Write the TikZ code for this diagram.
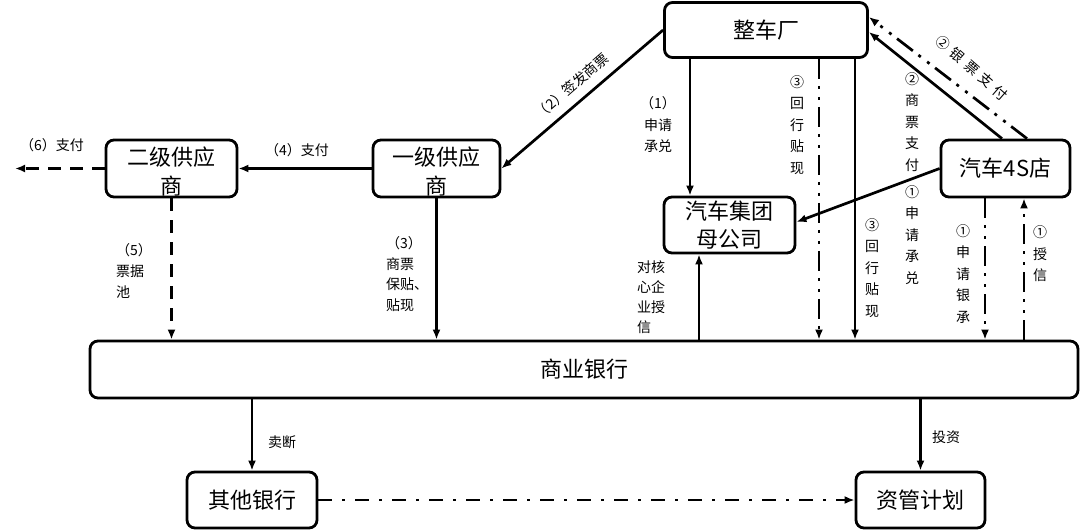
\documentclass[tikz,border=0pt]{standalone}
\usepackage{fontspec}
\setmainfont{Noto Sans CJK SC}
\usetikzlibrary{arrows.meta}
\begin{document}
\begin{tikzpicture}[x=1pt,y=-1pt,
  box/.style={draw, line width=2.8pt, rounded corners=8pt, inner sep=0pt,
    font=\fontsize{22}{28}\selectfont, align=center},
  boxtext/.style={inner sep=0pt, font=\fontsize{22}{29}\selectfont, align=center},
  lab/.style={inner sep=0pt, font=\fontsize{14}{21.5}\selectfont, align=center},
  labl/.style={inner sep=0pt, font=\fontsize{14}{20.5}\selectfont, align=left, anchor=west},
  conn/.style={line width=2.7pt, -{Latex[length=10pt,width=8pt]}},
  ddot/.style={dash pattern=on 20pt off 7pt on 3pt off 8pt on 3pt off 7pt},
  ddash/.style={dash pattern=on 13pt off 9pt},
  dashdot/.style={dash pattern=on 14pt off 10pt on 3pt off 10pt}]
\useasboundingbox (0,0) rectangle (1080,530);

% boxes
\node[box, minimum width=203pt, minimum height=55pt] (zc) at (766,30) {整车厂};
\node[box, minimum width=129pt, minimum height=57pt] (s4) at (1005.5,168.5) {汽车4S店};
\node[box, minimum width=131pt, minimum height=56pt] (jt) at (729.5,225) {汽车集团\\母公司};
\node[box, minimum width=127pt, minimum height=57pt] (s1) at (436.5,168.5) {};
\node[boxtext] (s1t) at (436.5,172) {一级供应\\商};
\node[box, minimum width=131pt, minimum height=57pt] (s2) at (171.5,168.5) {};
\node[boxtext] (s2t) at (171.5,172) {二级供应\\商};
\node[box, minimum width=988pt, minimum height=57pt] (bank) at (584,369.5) {商业银行};
\node[box, minimum width=130pt, minimum height=56pt] (ob) at (252,500) {其他银行};
\node[box, minimum width=129pt, minimum height=56pt] (zg) at (920.5,500) {资管计划};
\coordinate (out6) at (15,168.5);

% connectors
\draw[conn] (zc.west) -- (s1.east);
\draw[conn] ([xshift=-76pt]zc.south) -- ([xshift=-76pt]zc.south |- jt.north);
\draw[conn, ddot] ([xshift=53pt]zc.south) -- ([xshift=53pt]zc.south |- bank.north);
\draw[conn] ([xshift=89pt]zc.south) -- ([xshift=89pt]zc.south |- bank.north);
\draw[conn] ([xshift=-3.5pt]s4.north) -- ([yshift=-2pt]zc.east);
\draw[conn, ddot] ([xshift=21.5pt]s4.north) -- ([yshift=13pt]zc.east);
\draw[conn] (s4.west) -- ([yshift=3pt]jt.east);
\draw[conn, ddot] ([xshift=-20.5pt]s4.south) -- ([xshift=-20.5pt]s4.south |- bank.north);
\draw[conn, ddot] ([xshift=18.5pt]s4.south |- bank.north) -- ([xshift=18.5pt]s4.south);
\draw[conn] ([xshift=-30.5pt]jt.south |- bank.north) -- ([xshift=-30.5pt]jt.south);
\draw[conn] (s1.south) -- (s1.south |- bank.north);
\draw[conn, ddash] (s2.south) -- (s2.south |- bank.north);
\draw[conn] (s1.west) -- (s2.east);
\draw[conn, ddash] (s2.west) -- (out6);
\draw[conn] (ob.north |- bank.south) -- (ob.north);
\draw[conn] (zg.north |- bank.south) -- (zg.north);
\draw[conn, dashdot] (ob.east) -- (zg.west);

% labels
\node[lab, rotate=41] (l2) at (572,86) {（2）签发商票};
\node[lab] (l1) at (658,125) {（1）\\申请\\承兑};
\node[lab] (l3a) at (797,125) {③\\回\\行\\贴\\现};
\node[lab] (l2b) at (912,122) {②\\商\\票\\支\\付};
\node[lab, rotate=-41] (l2c) at (972,68) {②\hspace{5pt}银\hspace{5pt}票\hspace{5pt}支\hspace{5pt}付};
\node[lab] (l3b) at (872,268) {③\\回\\行\\贴\\现};
\node[lab] (l1b) at (912,235) {①\\申\\请\\承\\兑};
\node[lab] (l1c) at (963,274) {①\\申\\请\\银\\承};
\node[lab] (l1d) at (1040,254) {①\\授\\信};
\node[labl, font=\fontsize{14}{20}\selectfont] (lhx) at (637,297) {对核\\心企\\业授\\信};
\node[labl] (l3c) at (386,274) {（3）\\商票\\保贴、\\贴现};
\node[labl, font=\fontsize{14}{21}\selectfont] (l5) at (116,271) {（5）\\票据\\池};
\node[lab] (l4) at (297,150) {（4）支付};
\node[lab] (l6) at (52,145) {（6）支付};
\node[lab] (lmd) at (282,442) {卖断};
\node[lab] (ltz) at (946,437) {投资};
\end{tikzpicture}
\end{document}
